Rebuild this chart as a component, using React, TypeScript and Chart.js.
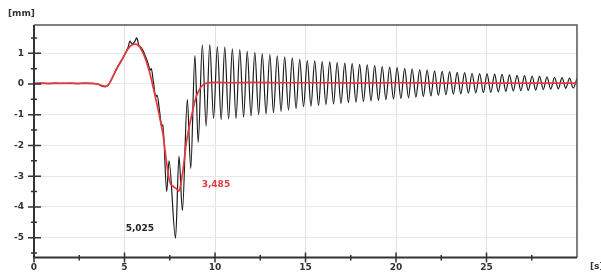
import { useEffect, useRef } from 'react';
import { Chart, registerables } from 'chart.js';

Chart.register(...registerables);

// Measured displacement (black) – time [s]
const blackTime = [
  0.0, 0.4, 0.8, 1.2, 1.6, 2.0, 2.4, 2.8, 3.2, 3.5, 3.75, 3.95, 4.1, 4.3, 4.56, 4.93, 5.2, 5.3, 5.42, 5.56,
  5.68, 5.78, 5.9, 6.03, 6.12, 6.3, 6.42, 6.48, 6.6, 6.73, 6.8, 6.95, 7.06, 7.12, 7.33, 7.46, 7.82, 8.01, 8.2, 8.47,
  8.66, 8.89, 9.07,
  9.30, 9.51, 9.71, 9.92, 10.13, 10.34, 10.54, 10.75, 10.96, 11.16, 11.37, 11.58, 11.78, 11.99, 12.20, 12.41,
  12.61, 12.82, 13.03, 13.23, 13.44, 13.65, 13.85, 14.06, 14.27, 14.48, 14.68, 14.89, 15.10, 15.30, 15.51, 15.72,
  15.92, 16.13, 16.34, 16.55, 16.75, 16.96, 17.17, 17.37, 17.58, 17.79, 17.99, 18.20, 18.41, 18.62, 18.82, 19.03,
  19.24, 19.44, 19.65, 19.86, 20.06, 20.27, 20.48, 20.69, 20.89, 21.10, 21.31, 21.51, 21.72, 21.93, 22.13, 22.34,
  22.55, 22.76, 22.96, 23.17, 23.38, 23.58, 23.79, 24.00, 24.20, 24.41, 24.62, 24.83, 25.03, 25.24, 25.45, 25.65,
  25.86, 26.07, 26.27, 26.48, 26.69, 26.90, 27.10, 27.31, 27.52, 27.72, 27.93, 28.14, 28.34, 28.55, 28.76, 28.97,
  29.17, 29.38, 29.59, 29.79, 30.00,
];
// Measured displacement (black) – [mm]
const blackMm = [
  0.02, 0.03, 0.01, 0.03, 0.02, 0.03, 0.01, 0.03, 0.02, 0.0, -0.07, -0.09, -0.03, 0.18, 0.5, 0.88, 1.2, 1.4, 1.3, 1.38,
  1.5, 1.28, 1.2, 1.08, 0.95, 0.68, 0.45, 0.5, 0.05, -0.42, -0.36, -0.95, -1.4, -1.32, -3.5, -2.5, -5.02, -2.35, -4.12, -0.5,
  -2.75, 0.93, -1.9,
  1.27, -1.37, 1.28, -1.12, 1.22, -1.16, 1.2, -1.14, 1.14, -1.12, 1.12, -1.08, 1.06, -1.04, 1.03, -1.0,
  0.99, -0.97, 0.96, -0.93, 0.92, -0.89, 0.88, -0.85, 0.85, -0.8, 0.8, -0.74, 0.76, -0.72, 0.75, -0.7,
  0.73, -0.67, 0.72, -0.65, 0.7, -0.63, 0.68, -0.61, 0.66, -0.59, 0.64, -0.57, 0.62, -0.55, 0.6, -0.53,
  0.57, -0.51, 0.55, -0.49, 0.53, -0.47, 0.51, -0.45, 0.49, -0.43, 0.47, -0.41, 0.45, -0.39, 0.43, -0.37,
  0.41, -0.35, 0.4, -0.33, 0.38, -0.32, 0.37, -0.3, 0.35, -0.29, 0.34, -0.28, 0.33, -0.27, 0.32, -0.26,
  0.31, -0.24, 0.3, -0.23, 0.28, -0.22, 0.27, -0.21, 0.26, -0.2, 0.25, -0.18, 0.23, -0.17, 0.22, -0.16,
  0.21, -0.14, 0.19, -0.13, 0.18,
];

// Filtered displacement (red)
const redTime = [
  0, 1, 2, 3, 3.5, 3.8, 3.98, 4.12, 4.3, 4.56, 4.93, 5.2, 5.4, 5.62, 5.85, 6.03, 6.2, 6.4, 6.6, 6.77,
  6.95, 7.14, 7.32, 7.5, 7.69, 7.85, 8.0, 8.1, 8.24, 8.42, 8.7, 8.97, 9.25, 9.53, 10, 11, 12, 14, 16, 18,
  20, 22, 24, 26, 28, 30,
];
const redMm = [
  0.02, 0.02, 0.02, 0.02, 0.0, -0.06, -0.08, -0.02, 0.17, 0.48, 0.86, 1.15, 1.27, 1.3, 1.2, 1.0, 0.74, 0.35, -0.15, -0.6,
  -1.1, -1.69, -2.55, -3.18, -3.33, -3.4, -3.485, -3.3, -2.76, -1.9, -1.05, -0.4, -0.08, 0.03, 0.05, 0.04, 0.05, 0.04, 0.04, 0.03,
  0.04, 0.03, 0.03, 0.03, 0.03, 0.03,
];

const xTickStep = 2.5;
const yTickStep = 0.5;
const xMajor = 5;
const yMajor = 1;

// annotations: text at (time, mm)
const annotationBlack = { text: '5,025', t: 5.85, v: -4.72 };
const annotationRed = { text: '3,485', t: 10.05, v: -3.27 };
const yUnit = '[mm]';
const xUnit = '[s]';

const FONT = "'DejaVu Sans', Verdana, sans-serif";

const isMult = (v: number, m: number) => Math.abs(v / m - Math.round(v / m)) < 1e-6;

const extras = {
  id: 'extras',
  afterDraw(chart: any) {
    const { ctx, chartArea, scales } = chart;
    const { left, right, top, bottom } = chartArea;
    const x = scales.x;
    const y = scales.y;
    ctx.save();
    // top/right frame
    ctx.strokeStyle = '#555';
    ctx.lineWidth = 1.5;
    ctx.beginPath();
    ctx.moveTo(left, top);
    ctx.lineTo(right, top);
    ctx.lineTo(right, bottom);
    ctx.stroke();
    // main axes
    ctx.strokeStyle = '#333';
    ctx.lineWidth = 2;
    ctx.beginPath();
    ctx.moveTo(left, top);
    ctx.lineTo(left, bottom);
    ctx.lineTo(right, bottom);
    ctx.stroke();
    // tick marks
    ctx.lineWidth = 1.5;
    ctx.beginPath();
    y.ticks.forEach((tk: any) => {
      const p = y.getPixelForValue(tk.value);
      const major = isMult(tk.value, yMajor);
      ctx.moveTo(left - (major ? 6 : 3), p);
      ctx.lineTo(left + (major ? 7 : 3), p);
    });
    x.ticks.forEach((tk: any) => {
      if (tk.value >= x.max - 1e-6) return;
      const p = x.getPixelForValue(tk.value);
      const major = isMult(tk.value, xMajor);
      ctx.moveTo(p, bottom - (major ? 5 : 2.5));
      ctx.lineTo(p, bottom + (major ? 5 : 3));
    });
    ctx.stroke();
    // texts
    ctx.font = `bold 9px ${FONT}`;
    ctx.textBaseline = 'middle';
    ctx.textAlign = 'left';
    ctx.fillStyle = '#333';
    ctx.fillText(yUnit, 8, 14);
    ctx.fillText(xUnit, 590, 267);
    ctx.textAlign = 'center';
    ctx.fillStyle = '#222';
    ctx.fillText(annotationBlack.text, x.getPixelForValue(annotationBlack.t), y.getPixelForValue(annotationBlack.v));
    ctx.fillStyle = '#e0393e';
    ctx.fillText(annotationRed.text, x.getPixelForValue(annotationRed.t), y.getPixelForValue(annotationRed.v));
    ctx.restore();
  },
};

export default function App() {
  const ref = useRef<HTMLCanvasElement | null>(null);
  useEffect(() => {
    if (!ref.current) return;
    const chart = new Chart(ref.current, {
      type: 'line',
      data: {
        datasets: [
          {
            label: 'filtered',
            data: redTime.map((t, i) => ({ x: t, y: redMm[i] })),
            borderColor: '#e6393f',
            borderWidth: 1.7,
            pointRadius: 0,
            cubicInterpolationMode: 'monotone',
            fill: false,
          },
          {
            label: 'measured',
            data: blackTime.map((t, i) => ({ x: t, y: blackMm[i] })),
            borderColor: '#1a1a1a',
            borderWidth: 1.2,
            pointRadius: 0,
            cubicInterpolationMode: 'monotone',
            fill: false,
          },
        ],
      },
      options: {
        animation: false,
        responsive: false,
        maintainAspectRatio: false,
        layout: { padding: { left: 0, top: 25, right: 24, bottom: 0 } },
        plugins: { legend: { display: false }, tooltip: { enabled: false } },
        scales: {
          x: {
            type: 'linear',
            min: 0,
            max: 30,
            afterFit: (s: any) => { s.height = 15; },
            border: { display: false },
            grid: {
              drawTicks: false,
              lineWidth: 1,
              color: (c: any) =>
                c.tick && isMult(c.tick.value, xMajor) && c.tick.value > 0 && c.tick.value < 30 ? '#e2e2e2' : 'rgba(0,0,0,0)',
            },
            ticks: {
              stepSize: xTickStep,
              includeBounds: false,
              autoSkip: false,
              maxRotation: 0,
              padding: 5,
              color: '#333',
              font: { family: FONT, size: 9, weight: 'bold' },
              callback: (v: any) => (isMult(Number(v), xMajor) && Number(v) < 30 ? String(v) : ''),
            },
          },
          y: {
            type: 'linear',
            min: -5.65,
            max: 1.92,
            afterFit: (s: any) => { s.width = 34; },
            border: { display: false },
            grid: {
              drawTicks: false,
              lineWidth: 1,
              color: (c: any) => (c.tick && isMult(c.tick.value, yMajor) ? '#e8e8e8' : 'rgba(0,0,0,0)'),
            },
            ticks: {
              stepSize: yTickStep,
              includeBounds: false,
              autoSkip: false,
              padding: 10,
              color: '#333',
              font: { family: FONT, size: 9, weight: 'bold' },
              callback: (v: any) => (isMult(Number(v), yMajor) ? String(v) : ''),
            },
          },
        },
      },
      plugins: [extras],
    } as any);
    return () => chart.destroy();
  }, []);
  return (
    <div style={{ position: 'fixed', left: 0, top: 0, width: 601, height: 273, background: '#fff' }}>
      <canvas ref={ref} width={601} height={273} style={{ display: 'block', width: 601, height: 273 }} />
    </div>
  );
}
